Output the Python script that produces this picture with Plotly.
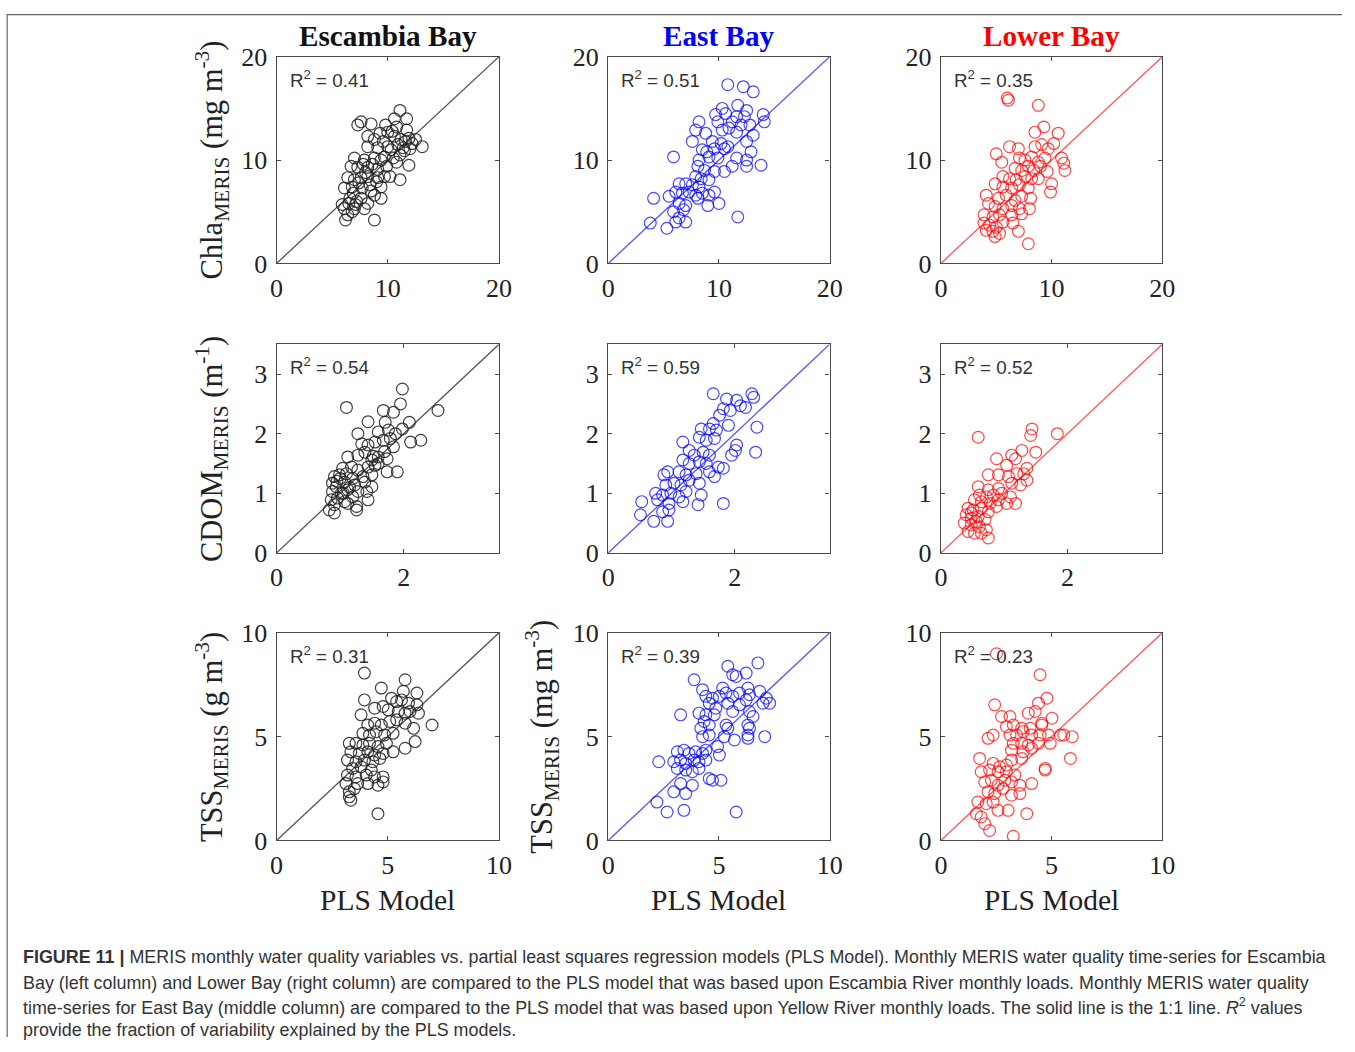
import plotly.graph_objects as go

W, H = 1355, 1052

# ---------------- data (PLS model, MERIS) ----------------
# Row 1: Chla
chla_escambia_pls = [11.1,10.6,11.7,7.6,7.3,8.5,9.8,10.8,11.7,9.3,10.0,8.2,8.8,10.6,11.2,11.9,12.5,8.2,9.1,10.0,
                     10.9,11.4,13.1,12.0,11.5,7.0,7.9,8.8,9.7,10.5,11.1,11.9,6.7,7.3,8.2,9.1,9.9,11.1,10.2,6.4,
                     7.0,7.6,8.2,9.1,9.7,6.1,6.8,7.7,8.5,9.4,8.8,9.4,5.9,6.5,7.1,8.2,7.6,6.1,6.4,7.0,
                     7.9,6.2,8.8,8.0,8.6,9.4,10.3,7.4,6.9,6.6,9.0,10.8,11.6,12.2,7.8,8.4,9.6,10.4,6.8,7.2]
chla_escambia_meris = [14.8,14.0,14.0,13.7,13.4,13.5,13.4,13.2,12.9,12.6,12.7,12.3,12.0,12.3,12.0,12.1,12.0,11.3,11.2,11.3,
                       11.5,11.2,11.3,11.1,10.9,10.2,10.0,10.2,10.3,10.2,10.5,9.5,9.4,9.3,9.3,9.1,9.4,8.1,8.4,8.3,
                       8.1,8.3,8.4,8.3,8.4,7.3,7.4,7.3,7.0,7.4,6.6,6.3,5.7,5.8,5.7,5.8,6.3,5.3,4.7,5.3,
                       5.3,4.2,4.2,8.8,9.6,10.0,11.0,7.8,6.8,6.3,7.9,9.8,11.8,11.6,9.6,7.6,11.8,12.8,5.0,6.0]

chla_east_pls = [10.8,12.2,13.1,10.3,11.7,12.5,9.7,10.6,11.6,12.3,14.0,14.1,8.2,9.9,11.2,12.0,12.8,7.9,8.8,10.3,
                 10.9,11.6,13.1,7.6,9.4,10.2,12.5,12.9,8.5,8.9,9.6,10.5,10.8,8.2,9.1,9.9,5.9,11.6,12.5,13.8,
                 12.5,11.2,8.1,8.7,9.6,10.5,7.9,8.4,9.1,6.4,7.0,7.6,8.2,6.1,6.7,7.3,7.9,8.5,9.1,9.6,
                 4.1,5.5,6.4,7.0,8.1,9.0,10.0,5.9,6.8,6.4,7.0,11.7,3.8,5.3,6.1]
chla_east_meris = [17.3,17.1,16.6,15.0,15.3,14.8,14.4,14.5,14.2,14.2,14.4,13.7,13.7,13.7,13.7,13.4,13.4,12.9,12.6,12.9,
                   13.1,12.7,12.4,11.8,11.8,11.6,11.8,10.8,11.0,10.8,11.1,11.1,11.3,10.0,10.3,10.2,10.3,10.2,10.0,9.5,
                   9.4,9.4,9.4,9.0,8.9,8.9,8.4,8.2,8.1,7.7,7.7,7.6,7.4,6.9,6.8,6.9,6.6,6.8,6.6,6.9,
                   6.3,6.5,5.8,5.6,6.3,5.6,5.8,5.0,5.2,4.4,4.0,4.5,3.9,3.4,4.0]

chla_lower_pls = [6.1,6.0,8.8,9.3,8.5,10.6,6.2,7.0,8.5,9.1,9.7,10.2,5.0,5.5,10.9,11.1,11.2,7.1,7.6,8.2,
                  8.8,9.4,6.7,7.3,7.9,8.4,9.0,9.6,5.6,6.2,6.8,7.6,10.0,9.9,4.9,5.6,6.4,7.1,7.9,8.2,
                  8.8,4.1,5.2,5.9,6.7,7.3,8.1,4.3,4.9,5.6,6.4,7.1,8.0,3.9,4.7,5.3,6.4,7.3,3.9,4.4,
                  5.0,5.6,6.5,4.1,4.7,5.3,4.9,7.0,7.9]
chla_lower_meris = [15.8,16.0,15.3,13.2,12.7,12.6,11.3,11.1,11.3,11.5,11.1,11.6,10.6,9.8,10.2,9.7,9.0,10.2,10.0,10.3,
                    9.8,10.2,9.2,9.0,9.4,9.0,9.4,8.9,8.4,8.2,8.1,8.4,7.7,6.9,7.7,7.4,7.3,7.6,7.3,8.2,
                    8.2,6.6,6.3,6.6,6.1,6.5,6.3,5.8,5.5,5.3,5.6,5.3,5.3,4.7,4.5,4.7,4.7,4.8,3.9,3.7,
                    3.5,4.0,3.9,3.2,3.1,2.9,2.6,3.1,1.9]

# Row 2: CDOM
cdom_escambia_pls = [1.98,1.10,2.54,1.68,1.84,1.95,1.44,1.71,2.09,1.98,1.28,1.60,1.76,1.87,2.11,2.27,1.34,1.44,1.55,1.68,
                     1.79,1.84,1.12,1.28,1.39,1.50,1.60,1.74,1.04,1.18,1.28,1.44,1.55,1.74,1.90,0.91,0.99,1.10,1.20,1.36,
                     1.50,0.88,0.94,1.07,1.23,1.39,1.50,0.88,1.02,1.12,1.28,1.42,0.86,0.96,1.07,1.20,1.44,0.91,1.12,1.26,
                     0.83,0.91,1.26,0.95,1.00,1.05,1.15,1.60,1.70,1.52]
cdom_escambia_meris = [2.75,2.44,2.39,2.39,2.36,2.50,2.20,2.19,2.19,2.08,2.00,2.03,2.06,2.00,1.86,1.89,1.83,1.81,1.86,1.89,
                       1.92,1.78,1.61,1.64,1.69,1.56,1.61,1.58,1.42,1.44,1.39,1.44,1.47,1.36,1.36,1.28,1.31,1.33,1.25,1.28,
                       1.31,1.17,1.11,1.19,1.14,1.19,1.11,1.03,1.00,1.06,1.03,1.03,0.89,0.92,0.86,0.94,0.89,0.81,0.83,0.78,
                       0.72,0.67,0.72,1.20,1.25,1.00,1.10,1.50,1.70,1.62]

cdom_east_pls = [1.66,2.27,2.30,1.87,2.03,2.09,2.17,1.82,1.93,1.76,2.35,1.66,1.47,1.60,1.71,1.90,1.44,1.55,1.68,1.18,
                 2.03,2.01,2.33,1.28,1.36,1.50,1.60,1.95,1.74,1.82,1.18,1.28,1.44,1.55,0.88,0.94,1.12,1.23,1.39,1.60,
                 1.68,0.91,1.04,1.15,1.28,1.44,0.75,0.86,0.99,1.12,1.23,1.47,0.53,0.78,0.96,1.18,1.42,1.82,0.51,0.86,
                 0.96,0.72,0.94]
cdom_east_meris = [2.67,2.67,2.61,2.58,2.56,2.47,2.44,2.42,2.39,2.31,2.11,2.17,2.08,2.08,2.06,2.14,1.94,1.89,1.92,1.86,
                   1.81,1.72,1.69,1.72,1.64,1.69,1.64,1.64,1.44,1.42,1.56,1.50,1.53,1.50,1.31,1.36,1.36,1.31,1.33,1.36,
                   1.28,1.14,1.17,1.14,1.22,1.17,1.00,0.97,1.00,0.94,1.03,0.97,0.86,0.89,0.83,0.86,0.81,0.83,0.64,0.69,
                   0.72,0.53,0.53]

cdom_lower_pls = [0.59,1.44,1.42,1.84,1.28,1.50,1.12,1.18,0.88,1.04,1.36,1.31,0.75,0.91,1.07,1.20,1.12,1.26,1.36,0.59,
                  0.75,0.91,0.61,0.72,0.83,0.96,1.10,1.18,0.53,0.64,0.78,0.91,1.04,0.43,0.51,0.64,0.75,0.88,0.40,0.48,
                  0.59,0.70,0.37,0.48,0.61,0.72,0.43,0.53,0.64,0.75,0.48,0.56]
cdom_lower_meris = [1.94,2.08,1.97,2.00,1.72,1.69,1.64,1.58,1.58,1.47,1.42,1.33,1.31,1.31,1.28,1.33,1.17,1.14,1.22,1.11,
                    1.06,1.08,0.97,0.94,0.97,1.00,0.94,0.83,0.89,0.86,0.83,0.89,0.83,0.75,0.72,0.75,0.69,0.78,0.64,0.58,
                    0.61,0.56,0.50,0.47,0.44,0.39,0.36,0.33,0.33,0.25,0.67,0.53]

# Row 3: TSS
tss_escambia_pls = [3.95,5.78,4.71,5.70,6.31,3.95,5.17,5.40,5.62,5.93,6.31,4.41,4.79,5.02,3.80,5.47,5.78,6.00,6.38,6.99,
                    4.10,4.41,4.71,5.09,5.40,5.78,3.88,4.18,4.48,4.86,5.24,6.16,6.23,5.78,3.27,3.57,3.88,4.18,4.56,4.94,
                    3.34,3.72,4.10,4.41,4.79,5.24,3.19,3.57,3.95,4.33,4.64,3.42,3.80,4.26,3.19,3.57,4.03,4.41,4.79,3.12,
                    3.65,4.10,4.56,4.79,3.27,3.50,3.27,3.34,4.56]
tss_escambia_meris = [8.06,7.74,7.34,7.18,7.10,6.77,6.85,6.69,6.77,6.61,6.53,6.37,6.45,6.29,6.05,6.21,6.13,6.21,6.13,5.56,
                      5.56,5.65,5.56,5.73,5.81,5.65,5.16,5.08,5.24,5.08,5.16,5.40,4.76,4.44,4.68,4.68,4.60,4.68,4.52,4.68,
                      4.27,4.19,4.27,4.11,4.19,4.27,3.87,3.79,3.87,3.79,3.95,3.47,3.55,3.39,3.15,3.06,3.15,3.06,3.06,2.74,
                      2.74,2.74,2.66,2.82,2.34,2.50,2.10,1.94,1.29]

tss_east_pls = [6.76,5.40,5.62,5.78,6.23,3.88,4.26,5.17,4.41,4.71,5.02,5.32,5.62,5.93,6.31,6.38,6.84,7.14,7.29,6.99,
                5.40,5.93,6.23,4.56,4.86,5.62,6.38,3.27,4.10,4.41,4.79,6.54,4.33,4.56,4.18,5.32,5.40,6.31,6.38,4.26,
                4.56,5.24,5.70,6.31,6.31,7.07,4.94,5.02,2.28,3.12,3.42,3.65,3.95,4.26,4.41,2.96,3.27,3.50,3.88,4.10,
                4.41,3.12,3.50,3.80,4.10,4.56,4.71,5.09,3.27,3.80,2.96,3.50,2.20,2.66,3.42,5.78]
tss_east_meris = [8.55,8.39,7.98,7.90,8.06,7.74,7.26,7.34,6.94,6.85,6.94,7.10,6.94,7.10,7.34,7.02,7.18,6.85,6.61,6.61,
                  6.61,6.53,6.77,6.61,6.37,6.21,6.21,6.05,6.13,6.05,6.05,5.97,5.73,5.56,5.40,5.56,5.40,5.56,5.40,5.00,
                  5.08,5.00,4.84,5.08,4.92,5.00,4.52,4.11,3.79,4.27,4.35,4.19,4.27,4.19,4.35,3.79,3.87,3.71,3.87,3.79,
                  3.87,3.47,3.39,3.31,3.47,2.98,2.90,2.90,2.74,2.66,2.34,2.26,1.85,1.37,1.45,1.37]

tss_lower_pls = [2.51,4.48,4.79,4.41,2.43,3.95,4.26,2.74,3.12,5.02,4.56,4.56,3.65,4.03,2.96,3.27,2.13,2.36,3.12,3.42,
                 3.72,4.10,4.48,4.86,5.40,5.55,5.93,3.27,3.65,3.95,4.41,4.94,3.19,3.72,4.10,5.85,1.75,2.36,2.66,2.96,
                 3.19,3.65,4.71,4.71,1.82,2.20,2.58,2.96,3.34,1.98,2.28,2.58,2.89,3.19,3.57,4.10,2.13,2.43,2.81,3.19,
                 3.57,1.67,2.05,2.36,2.58,3.04,3.88,1.60,1.82,1.98,2.20,3.27]
tss_lower_meris = [8.99,7.98,6.85,6.61,6.53,6.13,6.21,5.97,5.97,5.89,5.65,5.56,5.40,5.40,5.48,5.56,4.92,5.08,5.08,5.08,
                   5.24,5.08,5.08,5.08,5.08,5.08,5.00,4.68,4.68,4.60,4.68,4.68,4.35,4.27,4.44,3.95,3.95,3.71,3.55,3.63,
                   3.87,3.95,3.47,3.39,3.31,3.39,3.31,3.31,3.15,2.82,2.90,2.66,2.90,2.82,2.66,2.74,2.34,2.26,2.50,2.18,
                   2.26,1.85,1.77,1.85,1.45,1.45,1.29,1.29,1.13,0.81,0.48,0.20]

r2_values = [["0.41", "0.51", "0.35"],
             ["0.54", "0.59", "0.52"],
             ["0.31", "0.39", "0.23"]]

column_titles = ["Escambia Bay", "East Bay", "Lower Bay"]
row_ranges = [20, 3.5, 10]
row_xticks = [[0, 10, 20], [0, 2], [0, 5, 10]]
row_yticks = [[0, 10, 20], [0, 1, 2, 3], [0, 5, 10]]

panel_data = [
    [(chla_escambia_pls, chla_escambia_meris), (chla_east_pls, chla_east_meris), (chla_lower_pls, chla_lower_meris)],
    [(cdom_escambia_pls, cdom_escambia_meris), (cdom_east_pls, cdom_east_meris), (cdom_lower_pls, cdom_lower_meris)],
    [(tss_escambia_pls, tss_escambia_meris), (tss_east_pls, tss_east_meris), (tss_lower_pls, tss_lower_meris)],
]

# ---------------- styling / layout ----------------
title_colors = ["#111111", "#0000ff", "#ff0000"]
marker_colors = ["rgba(30,30,30,0.85)", "rgba(0,0,255,0.72)", "rgba(255,0,0,0.72)"]
line_colors = ["#555555", "#5555ff", "#ff5555"]
axis_color = "#4a4a4a"

# the captured page is slightly scaled/offset: map target screen pixels to figure pixels
AX, BX, AY, BY = 0.984, 7.0, 0.974, 12.2
def fx(sx):
    return (sx - BX) / AX
def fy(sy):
    return (sy - BY) / AY
def px(sx):
    return fx(sx) / W
def py(sy):
    return 1 - fy(sy) / H

col_px = [(277, 499), (608, 829), (940, 1161)]
row_px = [(55, 262), (343, 552), (632, 840)]

SERIF = "Liberation Serif, Times New Roman, serif"
SANS = "Liberation Sans, Arial, sans-serif"

fig = go.Figure()
layout = dict(width=W, height=H, margin=dict(l=0, r=0, t=0, b=0),
              paper_bgcolor="white", plot_bgcolor="white", showlegend=False)
annotations = []

idx = 0
for r in range(3):
    for c in range(3):
        idx += 1
        xs, ys = panel_data[r][c]
        rng = row_ranges[r]
        xa = "x" if idx == 1 else f"x{idx}"
        ya = "y" if idx == 1 else f"y{idx}"
        fig.add_trace(go.Scatter(x=[0, rng], y=[0, rng], mode="lines",
                                 line=dict(color=line_colors[c], width=1.3),
                                 xaxis=xa, yaxis=ya, hoverinfo="skip"))
        fig.add_trace(go.Scatter(x=xs, y=ys, mode="markers",
                                 marker=dict(symbol="circle-open", size=11.8,
                                             line=dict(color=marker_colors[c], width=1.2),
                                             color=marker_colors[c]),
                                 xaxis=xa, yaxis=ya))
        x0, x1 = col_px[c]
        yt, yb = row_px[r]
        common = dict(showline=True, linecolor=axis_color, linewidth=1.4, mirror="ticks",
                      ticks="inside", ticklen=4, tickcolor=axis_color, tickwidth=1.2,
                      showgrid=False, zeroline=False, range=[0, rng],
                      tickfont=dict(family=SERIF, size=26, color="#222222"))
        layout["xaxis" if idx == 1 else f"xaxis{idx}"] = dict(
            common, domain=[px(x0), px(x1)], anchor=ya,
            tickvals=row_xticks[r], ticklabelstandoff=1)
        layout["yaxis" if idx == 1 else f"yaxis{idx}"] = dict(
            common, domain=[py(yb), py(yt)], anchor=xa,
            tickvals=row_yticks[r], ticklabelstandoff=3)
        annotations.append(dict(xref="paper", yref="paper", x=px(x0 + 11), y=py(yt + 22),
                                xanchor="left", yanchor="middle", showarrow=False,
                                text=f"R<sup>2</sup> = {r2_values[r][c]}",
                                font=dict(family=SANS, size=18.8, color="#333333")))

# column titles and x-axis labels
for c in range(3):
    x0, x1 = col_px[c]
    annotations.append(dict(xref="paper", yref="paper", x=px((x0 + x1) / 2), y=py(34),
                            xanchor="center", yanchor="middle", showarrow=False,
                            text=f"<b>{column_titles[c]}</b>",
                            font=dict(family=SERIF, size=29.2, color=title_colors[c])))
    annotations.append(dict(xref="paper", yref="paper", x=px((x0 + x1) / 2), y=py(900),
                            xanchor="center", yanchor="middle", showarrow=False,
                            text="PLS Model",
                            font=dict(family=SERIF, size=29.5, color="#222222")))

# y-axis labels
ylabels = [
    (212, 0, "Chla<sub>MERIS</sub> (mg m<sup>-3</sup>)"),
    (212, 1, "CDOM<sub>MERIS</sub> (m<sup>-1</sup>)"),
    (212, 2, "TSS<sub>MERIS</sub> (g m<sup>-3</sup>)"),
    (542, 2, "TSS<sub>MERIS</sub> (mg m<sup>-3</sup>)"),
]
for xp_, r, txt in ylabels:
    yt, yb = row_px[r]
    annotations.append(dict(xref="paper", yref="paper", x=px(xp_), y=py((yt + yb) / 2),
                            xanchor="center", yanchor="middle", showarrow=False, textangle=-90,
                            text=txt, font=dict(family=SERIF, size=30.5, color="#222222")))

# caption
caption_lines = [
    "<b>FIGURE 11 |</b> MERIS monthly water quality variables vs. partial least squares regression models (PLS Model). Monthly MERIS water quality time-series for Escambia",
    "Bay (left column) and Lower Bay (right column) are compared to the PLS model that was based upon Escambia River monthly loads. Monthly MERIS water quality",
    "time-series for East Bay (middle column) are compared to the PLS model that was based upon Yellow River monthly loads. The solid line is the 1:1 line. <i>R</i><sup>2</sup> values",
    "provide the fraction of variability explained by the PLS models.",
]
caption_fig_y = [970, 996, 1021, 1045]
for txt, yp in zip(caption_lines, caption_fig_y):
    annotations.append(dict(xref="paper", yref="paper", x=px(22), y=1 - yp / H,
                            xanchor="left", yanchor="middle", showarrow=False,
                            text=txt, font=dict(family=SANS, size=17.9, color="#333333")))

layout["annotations"] = annotations
layout["shapes"] = [
    dict(type="line", xref="paper", yref="paper", x0=1 / W, x1=1, y0=1 - 0.6 / H, y1=1 - 0.6 / H,
         line=dict(color="#666666", width=1.2)),
    dict(type="line", xref="paper", yref="paper", x0=1.2 / W, x1=1.2 / W, y0=1, y1=0,
         line=dict(color="#666666", width=1.2)),
]
fig.update_layout(**layout)
fig.write_html("out.html")
